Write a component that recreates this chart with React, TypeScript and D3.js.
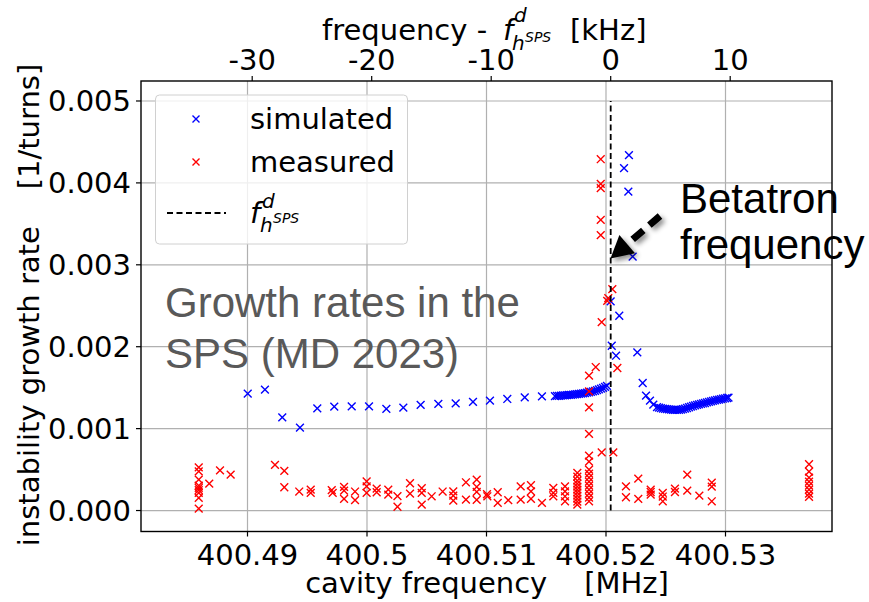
import React from 'react';
import * as d3 from 'd3';

const W = 869;
const H = 602;

// reference (betatron) harmonic frequency in MHz
const F_H = 400.520393;
const X_DOMAIN = [400.481088, 400.538912];
const Y_DOMAIN = [-0.000256, 0.005244];

const xTicks = [400.49, 400.5, 400.51, 400.52, 400.53];
const xTickLabels = ['400.49', '400.5', '400.51', '400.52', '400.53'];
const yTicks = [0, 0.001, 0.002, 0.003, 0.004, 0.005];
const yTickLabels = ['0.000', '0.001', '0.002', '0.003', '0.004', '0.005'];
const topTicksKHz = [-30, -20, -10, 0, 10];

// simulated growth rates
const simFreq = [
  400.49002, 400.49146, 400.49291, 400.49439, 400.49584, 400.49726, 400.49872, 400.50017, 400.50162,
  400.50304, 400.50449, 400.50597, 400.50742, 400.50887, 400.51029, 400.51174, 400.5132, 400.51464,
  400.51573, 400.5159, 400.51607, 400.51623, 400.5164, 400.51657, 400.51674, 400.5169, 400.51707,
  400.51724, 400.51741, 400.51757, 400.51774, 400.51791, 400.51808, 400.51824, 400.51841, 400.51858,
  400.51874, 400.51891, 400.51908, 400.51925, 400.51941, 400.51958, 400.51975, 400.51992, 400.52008,
  400.52039, 400.52048, 400.52084, 400.52111, 400.52151, 400.52187, 400.52192, 400.52223, 400.52262,
  400.52307, 400.52335, 400.52368, 400.52396,
  400.52427, 400.52444, 400.5246, 400.52477, 400.52494, 400.5251, 400.52527, 400.52544, 400.52561,
  400.52577, 400.52594, 400.52611, 400.52628, 400.52644, 400.52661, 400.52678, 400.52695, 400.52711,
  400.52728, 400.52745, 400.52762, 400.52778, 400.52795, 400.52812, 400.52828, 400.52845, 400.52862,
  400.52879, 400.52895, 400.52912, 400.52929, 400.52946, 400.52962, 400.52979, 400.52996, 400.53013,
  400.53025,
];
const simRate = [
  0.001427, 0.001476, 0.001138, 0.001012, 0.001248, 0.001268, 0.001272, 0.001272, 0.00124,
  0.001256, 0.001289, 0.001301, 0.001309, 0.001326, 0.001341, 0.001362, 0.001382, 0.001394,
  0.001396, 0.001399, 0.0014, 0.001402, 0.001405, 0.001406, 0.001409, 0.001411, 0.001413,
  0.001416, 0.001418, 0.001421, 0.001424, 0.001427, 0.00143, 0.001434, 0.001439, 0.001444,
  0.001449, 0.001455, 0.001462, 0.00147, 0.001478, 0.001488, 0.001498, 0.001509, 0.001521,
  0.002553, 0.002012, 0.00189, 0.002378, 0.00418, 0.003894, 0.004338, 0.003101, 0.00193,
  0.001557, 0.001402, 0.001341, 0.001293,
  0.001262, 0.001256, 0.00125, 0.001244, 0.00124, 0.001237, 0.001234, 0.001232, 0.00123,
  0.001229, 0.001229, 0.001229, 0.001232, 0.001237, 0.001244, 0.001252, 0.001261, 0.001268,
  0.001276, 0.001283, 0.001289, 0.001295, 0.001301, 0.001307, 0.001313, 0.00132, 0.001326,
  0.001332, 0.001338, 0.001344, 0.00135, 0.001355, 0.00136, 0.001365, 0.00137, 0.001374,
  0.001378,
];

// measured growth rates: one frequency, several repeated measurements
const measFreq = [
  400.48592, 400.4868, 400.4877, 400.48859, 400.4923, 400.49308, 400.49433, 400.49529, 400.49705,
  400.49713, 400.49808, 400.499, 400.49997, 400.50081, 400.50178, 400.50255, 400.5036, 400.50458,
  400.50541, 400.50633, 400.50722, 400.50828, 400.50918, 400.51004, 400.51007, 400.51094, 400.51182,
  400.51286, 400.51372, 400.51464, 400.51559, 400.51657, 400.5176, 400.51858, 400.51914, 400.51956,
  400.51964, 400.5201, 400.52019, 400.52053, 400.52061, 400.52095, 400.52167, 400.5227, 400.52374,
  400.52475, 400.52577, 400.5268, 400.52781, 400.52885, 400.53699,
];
const measRate = [
  [0.000528, 0.000479, 0.000378, 0.000305, 0.000277, 0.000248, 0.000216, 0.000155, 0.000024],
  [0.000329],
  [0.000491],
  [0.000439],
  [0.000557],
  [0.000484, 0.000284],
  [0.000232],
  [0.000256, 0.000216],
  [0.000248],
  [0.000216],
  [0.000289, 0.000244, 0.000143],
  [0.000232, 0.000126],
  [0.000357, 0.000296, 0.000216],
  [0.000268, 0.000223],
  [0.000256, 0.000195],
  [0.000177, 0.000046],
  [0.000333, 0.000207],
  [0.000272, 0.000216, 0.000073],
  [0.000174],
  [0.000232],
  [0.000235, 0.000183, 0.000122],
  [0.000345, 0.000134],
  [0.000378, 0.000289, 0.000228, 0.00013],
  [0.000199],
  [0.000174],
  [0.000223, 0.000094],
  [0.000126],
  [0.000296, 0.000134],
  [0.000309, 0.000235, 0.000143],
  [0.000094],
  [0.000277, 0.000216, 0.000174],
  [0.000296, 0.000235, 0.000174, 0.000113],
  [0.00046, 0.000415, 0.000366, 0.000329, 0.000293, 0.000256, 0.00022, 0.000183, 0.000146, 0.00011, 0.000073],
  [0.001646, 0.001455, 0.00126, 0.000935, 0.000671, 0.000598, 0.0005, 0.000451, 0.000402, 0.000354,
    0.000305, 0.000256, 0.000207, 0.000159, 0.000113],
  [0.001752],
  [0.004289, 0.003988, 0.003935, 0.003549, 0.003362],
  [0.002301, 0.000711],
  [0.00256],
  [0.002593],
  [0.002703],
  [0.000711],
  [0.00174],
  [0.000296, 0.000162],
  [0.00039, 0.000143],
  [0.000256, 0.000226, 0.000195],
  [0.000216, 0.000171, 0.000113],
  [0.000268, 0.000226],
  [0.000439, 0.000244],
  [0.000183],
  [0.000341, 0.000293, 0.000113],
  [0.000565, 0.000476, 0.000402, 0.000354, 0.000305, 0.000256, 0.000207, 0.000167],
];

const FONT = 'DejaVu Sans, sans-serif';
const ARIAL = 'Liberation Sans, Arial, sans-serif';
const FS = 29;

const L = 141, R = 832, T = 81, B = 531.5;

const XMark = ({ cx, cy, color, s = 3.9 }: { cx: number; cy: number; color: string; s?: number }) => (
  <path
    d={`M${cx - s},${cy - s}L${cx + s},${cy + s}M${cx - s},${cy + s}L${cx + s},${cy - s}`}
    stroke={color}
    strokeWidth={1.4}
    fill="none"
  />
);

export default function App() {
  const x = d3.scaleLinear().domain(X_DOMAIN).range([L, R]);
  const y = d3.scaleLinear().domain(Y_DOMAIN).range([B, T]);
  const xTop = (k: number) => x(F_H + k / 1000);

  const measPts: [number, number][] = [];
  measFreq.forEach((f, i) => measRate[i].forEach((r) => measPts.push([f, r])));

  // arrow geometry
  const ax0 = 660, ay0 = 216, tipX = 610.5, tipY = 258.5;
  const dx = tipX - ax0, dy = tipY - ay0;
  const len = Math.hypot(dx, dy);
  const ux = dx / len, uy = dy / len;
  const headL = 22, headW = 12;
  const bx = tipX - ux * headL, by = tipY - uy * headL;
  const nx = -uy, ny = ux;
  const head = `M${tipX},${tipY}L${bx + nx * headW},${by + ny * headW}L${bx - nx * headW},${by - ny * headW}Z`;

  return (
    <svg width={W} height={H} style={{ position: 'absolute', left: 0, top: 0, background: '#fff' }}>
      <defs>
        <filter id="shadow" x="-50%" y="-50%" width="200%" height="200%">
          <feDropShadow dx="3" dy="3" stdDeviation="2.5" floodColor="#000" floodOpacity="0.45" />
        </filter>
        <clipPath id="plotclip">
          <rect x={L} y={T} width={R - L} height={B - T} />
        </clipPath>
      </defs>
      <rect x={0} y={0} width={W} height={H} fill="#fff" />

      {/* grid */}
      {xTicks.map((t) => (
        <line key={'gx' + t} x1={x(t)} x2={x(t)} y1={T} y2={B} stroke="#b0b0b0" strokeWidth={1.2} />
      ))}
      {yTicks.map((t) => (
        <line key={'gy' + t} x1={L} x2={R} y1={y(t)} y2={y(t)} stroke="#b0b0b0" strokeWidth={1.2} />
      ))}

      {/* data */}
      <g clipPath="url(#plotclip)">
        {simFreq.map((f, i) => (
          <XMark key={'s' + i} cx={x(f)} cy={y(simRate[i])} color="#0000ff" />
        ))}
        {measPts.map(([f, r], i) => (
          <XMark key={'m' + i} cx={x(f)} cy={y(r)} color="#ff0000" />
        ))}
        <line x1={x(F_H)} x2={x(F_H)} y1={y(0)} y2={y(0.005)} stroke="#000" strokeWidth={1.8} strokeDasharray="6,3.5" />
      </g>

      {/* frame */}
      <rect x={L} y={T} width={R - L} height={B - T} fill="none" stroke="#000" strokeWidth={1.4} />

      {/* bottom ticks */}
      {xTicks.map((t, i) => (
        <g key={'xt' + t}>
          <line x1={x(t)} x2={x(t)} y1={B} y2={B + 5} stroke="#000" strokeWidth={1.2} />
          <text x={x(t)} y={565} textAnchor="middle" fontFamily={FONT} fontSize={FS} fill="#000">
            {xTickLabels[i]}
          </text>
        </g>
      ))}
      {/* top ticks */}
      {topTicksKHz.map((k) => (
        <g key={'tt' + k}>
          <line x1={xTop(k)} x2={xTop(k)} y1={T} y2={T - 5} stroke="#000" strokeWidth={1.2} />
          <text x={xTop(k)} y={70} textAnchor="middle" fontFamily={FONT} fontSize={FS} fill="#000">
            {k < 0 ? '-' + Math.abs(k) : String(k)}
          </text>
        </g>
      ))}
      {/* left ticks */}
      {yTicks.map((t, i) => (
        <g key={'yt' + t}>
          <line x1={L} x2={L - 5} y1={y(t)} y2={y(t)} stroke="#000" strokeWidth={1.2} />
          <text x={131} y={y(t) + 10.5} textAnchor="end" fontFamily={FONT} fontSize={FS} fill="#000">
            {yTickLabels[i]}
          </text>
        </g>
      ))}

      {/* axis labels */}
      <text x={487} y={593} textAnchor="middle" fontFamily={FONT} fontSize={FS} fill="#000" style={{ whiteSpace: 'pre' }}>
        {'cavity frequency    [MHz]'}
      </text>
      <text
        transform="translate(39,305) rotate(-90)"
        textAnchor="middle"
        fontFamily={FONT}
        fontSize={FS}
        fill="#000"
        style={{ whiteSpace: 'pre' }}
      >
        {'instability growth rate    [1/turns]'}
      </text>
      {/* top label: frequency - f^d_{h^SPS} [kHz] */}
      <g fontFamily={FONT} fill="#000">
        <text x={322} y={40} fontSize={FS}>frequency -</text>
        <text x={503} y={40} fontSize={FS} fontStyle="italic">f</text>
        <text x={514} y={22} fontSize={20} fontStyle="italic">d</text>
        <text x={512} y={50} fontSize={20} fontStyle="italic">h</text>
        <text x={525} y={42} fontSize={14} fontStyle="italic">SPS</text>
        <text x={570} y={40} fontSize={FS}>[kHz]</text>
      </g>

      {/* legend */}
      <g>
        <rect x={155.5} y={95} width={252} height={149} rx={4} fill="#fff" fillOpacity={0.8} stroke="#d0d0d0" strokeWidth={1} />
        <XMark cx={196} cy={119} color="#0000ff" s={3.5} />
        <text x={250} y={129} fontFamily={FONT} fontSize={FS}>simulated</text>
        <XMark cx={196} cy={162} color="#ff0000" s={3.5} />
        <text x={250} y={172} fontFamily={FONT} fontSize={FS}>measured</text>
        <line x1={167} x2={226} y1={213} y2={213} stroke="#000" strokeWidth={1.8} strokeDasharray="6,3.5" />
        <g fontFamily={FONT} fill="#000" fontStyle="italic">
          <text x={250} y={223} fontSize={FS}>f</text>
          <text x={262} y={208} fontSize={20}>d</text>
          <text x={260} y={232} fontSize={20}>h</text>
          <text x={273} y={223} fontSize={14}>SPS</text>
        </g>
      </g>

      {/* annotations */}
      <g fontFamily={ARIAL} fontSize={42}>
        <text x={680} y={213} fill="#000">Betatron</text>
        <text x={680} y={259} fill="#000">frequency</text>
        <text x={165} y={317} fill="#595959">Growth rates in the</text>
        <text x={165} y={368} fill="#595959">SPS (MD 2023)</text>
      </g>
      <g filter="url(#shadow)">
        <line x1={ax0} y1={ay0} x2={bx + ux * 2} y2={by + uy * 2} stroke="#000" strokeWidth={7} strokeDasharray="14,8" />
        <path d={head} fill="#000" />
      </g>
    </svg>
  );
}
